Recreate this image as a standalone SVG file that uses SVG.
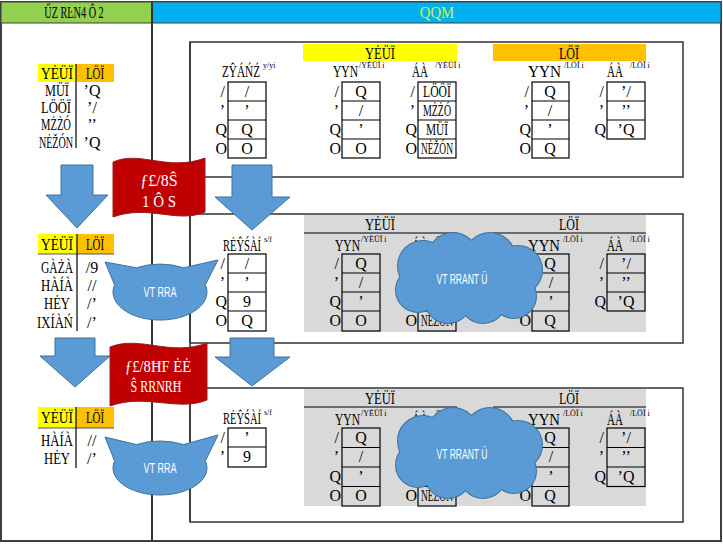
<svg xmlns="http://www.w3.org/2000/svg" width="723" height="546" viewBox="0 0 723 546">
<style>
.s{font-family:"Liberation Serif","DejaVu Serif",serif;font-size:16px;fill:#000}
.h{font-size:17px}
.c{text-anchor:middle}
.r{text-anchor:end}
.sup{font-size:8px}
.wt{fill:#fff}
.w{fill:#fff;font-family:"Liberation Sans","DejaVu Sans",sans-serif;font-size:14px;text-anchor:middle}
.box{fill:none;stroke:#000;stroke-width:1.2}
.ln{stroke:#000;stroke-width:1.2}
.panel{fill:#fff;stroke:#333;stroke-width:1.5}
.blue{fill:#5b9bd5;stroke:#41719c;stroke-width:1}
.flag{fill:#c00000;stroke:#9a2020;stroke-width:1}
.gray{fill:#d9d9d9}
</style>
<defs>
<g id="cloud">
<g fill="#5b9bd5" stroke="#41719c" stroke-width="2">
<circle cx="-45" cy="-12" r="25"/><circle cx="-15" cy="-20" r="25"/><circle cx="22" cy="-20" r="25"/><circle cx="50" cy="-8" r="24"/><circle cx="46" cy="18" r="22"/><circle cx="15" cy="22" r="23"/><circle cx="-20" cy="22" r="23"/><circle cx="-50" cy="12" r="22"/>
</g>
<g fill="#5b9bd5">
<circle cx="-45" cy="-12" r="25"/><circle cx="-15" cy="-20" r="25"/><circle cx="22" cy="-20" r="25"/><circle cx="50" cy="-8" r="24"/><circle cx="46" cy="18" r="22"/><circle cx="15" cy="22" r="23"/><circle cx="-20" cy="22" r="23"/><circle cx="-50" cy="12" r="22"/><circle cx="0" cy="0" r="35"/>
</g>
</g>
</defs>

<!-- frame and header -->
<rect x="1" y="2" width="720" height="539" fill="#fff" stroke="#404040" stroke-width="2"/>
<rect x="1" y="2" width="151" height="21" fill="#92d050" stroke="#404040" stroke-width="1"/>
<rect x="152" y="2" width="569" height="21" fill="#00b0f0" stroke="#404040" stroke-width="1"/>
<line x1="152" y1="2" x2="152" y2="541" stroke="#333" stroke-width="2"/>
<text class="s c" font-size="14" transform="translate(74 18) scale(0.64 1)">ŰZ RĿN4 Ô 2</text>
<text class="s c" font-size="14" transform="translate(437 18) scale(0.92 1)" style="fill:#d4f046">QQM</text>

<!-- panels -->
<g id="panel-top">
<rect class="panel" x="190" y="42" width="493" height="135"/>
<rect x="303" y="44" width="154" height="17" fill="#ffff00"/>
<text class="s h c" transform="translate(380 59) scale(0.74 1)">YĖÜÏ</text>
<rect x="493" y="44" width="153" height="17" fill="#ffc000"/>
<text class="s h c" transform="translate(569 59) scale(0.71 1)">LÖÏ</text>
<text class="s h" transform="translate(222 77) scale(0.66 1)">ZŶÁŃŹ</text><text class="s sup" x="263" y="68">y/yi</text>
<text class="s h" transform="translate(333 77) scale(0.68 1)">YYN</text><text class="s sup" x="359" y="68">/YĖÜÏ i</text>
<text class="s h" transform="translate(412 77) scale(0.65 1)">ÁÀ</text><text class="s sup" x="435" y="68">/YĖÜÏ i</text>
<text class="s h" transform="translate(528 77) scale(0.9 1)">YYN</text><text class="s sup" x="564" y="68">/LÖÏ i</text>
<text class="s h" transform="translate(607 77) scale(0.65 1)">ÁÀ</text><text class="s sup" x="630" y="68">/LÖÏ i</text>
<rect class="box" x="228" y="82" width="38" height="76"/><path class="ln" d="M228 101H266M228 120H266M228 139H266"/>
<text class="s r" x="225" y="97">/</text><text class="s r" x="225" y="116">’</text><text class="s r" x="227" y="135">Q</text><text class="s r" x="227" y="154">O</text>
<text class="s c" x="247" y="97">/</text><text class="s c" x="247" y="116">’</text><text class="s c" x="247" y="135">Q</text><text class="s c" x="247" y="154">O</text>
<rect class="box" x="342" y="82" width="38" height="76"/><path class="ln" d="M342 101H380M342 120H380M342 139H380"/>
<text class="s r" x="339" y="97">/</text><text class="s r" x="339" y="116">’</text><text class="s r" x="341" y="135">Q</text><text class="s r" x="341" y="154">O</text>
<text class="s c" x="361" y="97">Q</text><text class="s c" x="361" y="116">/</text><text class="s c" x="361" y="135">’</text><text class="s c" x="361" y="154">O</text>
<rect class="box" x="418" y="82" width="38" height="76"/><path class="ln" d="M418 101H456M418 120H456M418 139H456"/>
<text class="s r" x="415" y="97">/</text><text class="s r" x="415" y="116">’</text><text class="s r" x="417" y="135">Q</text><text class="s r" x="417" y="154">O</text>
<text class="s c" transform="translate(437 97) scale(0.73 1)">LÖÖÏ</text><text class="s c" transform="translate(437 116) scale(0.62 1)">MŻŻÓ</text><text class="s c" transform="translate(437 135) scale(0.71 1)">MÜÏ</text><text class="s c" transform="translate(437 154) scale(0.59 1)">NĖŽÓN</text>
<rect class="box" x="532" y="82" width="37" height="76"/><path class="ln" d="M532 101H569M532 120H569M532 139H569"/>
<text class="s r" x="529" y="97">/</text><text class="s r" x="529" y="116">’</text><text class="s r" x="531" y="135">Q</text><text class="s r" x="531" y="154">O</text>
<text class="s c" x="550" y="97">Q</text><text class="s c" x="550" y="116">/</text><text class="s c" x="550" y="135">’</text><text class="s c" x="550" y="154">Q</text>
<rect class="box" x="607" y="82" width="38" height="57"/><path class="ln" d="M607 101H645M607 120H645"/>
<text class="s r" x="604" y="97">/</text><text class="s r" x="604" y="116">’</text><text class="s r" x="606" y="135">Q</text>
<text class="s c" x="626" y="97">’/</text><text class="s c" x="626" y="116">’’</text><text class="s c" x="626" y="135">’Q</text>
</g>

<g id="panel-middle">
<rect class="panel" x="190" y="214" width="493" height="129"/>
<rect class="gray" x="304" y="215" width="342" height="117"/>
<text class="s h c" transform="translate(380 230) scale(0.74 1)">YĖÜÏ</text><line class="ln" x1="304" y1="233" x2="457" y2="233"/>
<text class="s h c" transform="translate(569 230) scale(0.71 1)">LÖÏ</text><line class="ln" x1="493" y1="233" x2="646" y2="233"/>
<text class="s h" transform="translate(223 251) scale(0.62 1)">RĖŶŚÀÍ</text><text class="s sup" x="264" y="242">s/f</text>
<text class="s h" transform="translate(335 251) scale(0.68 1)">YYN</text><text class="s sup" x="361" y="242">/YĖÜÏ i</text>
<text class="s h" transform="translate(412 251) scale(0.65 1)">ÁÀ</text><text class="s sup" x="435" y="242">/YĖÜÏ i</text>
<text class="s h" transform="translate(528 251) scale(0.87 1)">YYN</text><text class="s sup" x="563" y="242">/LÖÏ i</text>
<text class="s h" transform="translate(607 251) scale(0.65 1)">ÁÀ</text><text class="s sup" x="630" y="242">/LÖÏ i</text>
<rect class="box" x="228" y="254" width="38" height="77"/><path class="ln" d="M228 273H266M228 292H266M228 311H266"/>
<text class="s r" x="225" y="269">/</text><text class="s r" x="225" y="288">’</text><text class="s r" x="227" y="307">Q</text><text class="s r" x="227" y="326">O</text>
<text class="s c" x="247" y="269">/</text><text class="s c" x="247" y="288">’</text><text class="s c" x="247" y="307">9</text><text class="s c" x="247" y="326">Q</text>
<rect class="box" x="342" y="254" width="38" height="77"/><path class="ln" d="M342 273H380M342 292H380M342 311H380"/>
<text class="s r" x="339" y="269">/</text><text class="s r" x="339" y="288">’</text><text class="s r" x="341" y="307">Q</text><text class="s r" x="341" y="326">O</text>
<text class="s c" x="361" y="269">Q</text><text class="s c" x="361" y="288">/</text><text class="s c" x="361" y="307">’</text><text class="s c" x="361" y="326">O</text>
<rect class="box" x="418" y="254" width="38" height="77"/><path class="ln" d="M418 273H456M418 292H456M418 311H456"/>
<text class="s r" x="417" y="326">O</text>
<text class="s c" transform="translate(437 326) scale(0.59 1)">NĖŽÓN</text>
<rect class="box" x="532" y="254" width="37" height="77"/><path class="ln" d="M532 273H569M532 292H569M532 311H569"/>
<text class="s r" x="531" y="307">Q</text><text class="s r" x="531" y="326">O</text>
<text class="s c" x="550" y="269">Q</text><text class="s c" x="551" y="288">/</text><text class="s c" x="551" y="307">’</text><text class="s c" x="550" y="326">Q</text>
<rect class="box" x="607" y="254" width="38" height="57"/><path class="ln" d="M607 273H645M607 292H645"/>
<text class="s r" x="604" y="269">/</text><text class="s r" x="604" y="288">’</text><text class="s r" x="606" y="307">Q</text>
<text class="s c" x="626" y="269">’/</text><text class="s c" x="626" y="288">’’</text><text class="s c" x="626" y="307">’Q</text>
</g>

<g id="panel-bottom">
<rect class="panel" x="190" y="388" width="493" height="134"/>
<rect class="gray" x="304" y="389" width="342" height="117"/>
<text class="s h c" transform="translate(380 404) scale(0.74 1)">YĖÜÏ</text><line class="ln" x1="304" y1="407" x2="457" y2="407"/>
<text class="s h c" transform="translate(569 404) scale(0.71 1)">LÖÏ</text><line class="ln" x1="493" y1="407" x2="646" y2="407"/>
<text class="s h" transform="translate(223 424) scale(0.62 1)">RĖŶŚÀÍ</text><text class="s sup" x="264" y="415">s/f</text>
<text class="s h" transform="translate(335 425) scale(0.68 1)">YYN</text><text class="s sup" x="361" y="416">/YĖÜÏ i</text>
<text class="s h" transform="translate(412 425) scale(0.65 1)">ÁÀ</text><text class="s sup" x="435" y="416">/YĖÜÏ i</text>
<text class="s h" transform="translate(528 425) scale(0.87 1)">YYN</text><text class="s sup" x="563" y="416">/LÖÏ i</text>
<text class="s h" transform="translate(607 425) scale(0.65 1)">ÁÀ</text><text class="s sup" x="630" y="416">/LÖÏ i</text>
<rect class="box" x="228" y="428" width="38" height="39"/><path class="ln" d="M228 447H266"/>
<text class="s r" x="225" y="443">/</text><text class="s r" x="225" y="462">’</text>
<text class="s c" x="247" y="443">’</text><text class="s c" x="247" y="462">9</text>
<rect class="box" x="342" y="428" width="38" height="78"/><path class="ln" d="M342 447.5H380M342 467H380M342 486.5H380"/>
<text class="s r" x="339" y="443">/</text><text class="s r" x="339" y="462">’</text><text class="s r" x="341" y="482">Q</text><text class="s r" x="341" y="501">O</text>
<text class="s c" x="361" y="443">Q</text><text class="s c" x="361" y="462">/</text><text class="s c" x="361" y="482">’</text><text class="s c" x="361" y="501">O</text>
<rect class="box" x="418" y="428" width="38" height="78"/><path class="ln" d="M418 447.5H456M418 467H456M418 486.5H456"/>
<text class="s r" x="417" y="501">O</text>
<text class="s c" transform="translate(437 501) scale(0.59 1)">NĖŽÓN</text>
<rect class="box" x="532" y="428" width="37" height="78"/><path class="ln" d="M532 447.5H569M532 467H569M532 486.5H569"/>
<text class="s r" x="531" y="482">Q</text><text class="s r" x="531" y="501">O</text>
<text class="s c" x="550" y="443">Q</text><text class="s c" x="551" y="462">/</text><text class="s c" x="551" y="482">’</text><text class="s c" x="550" y="501">Q</text>
<rect class="box" x="607" y="428" width="38" height="58.5"/><path class="ln" d="M607 447.5H645M607 467H645"/>
<text class="s r" x="604" y="443">/</text><text class="s r" x="604" y="462">’</text><text class="s r" x="606" y="482">Q</text>
<text class="s c" x="626" y="443">’/</text><text class="s c" x="626" y="462">’’</text><text class="s c" x="626" y="482">’Q</text>
</g>

<line x1="190" y1="42" x2="190" y2="522" stroke="#333" stroke-width="1.5"/>

<!-- left tables -->
<g id="left-top">
<rect x="38" y="64" width="38" height="18" fill="#ffff00"/><rect x="76" y="64" width="38" height="18" fill="#ffc000"/>
<text class="s h c" transform="translate(57 79) scale(0.79 1)">YĖÜÏ</text><text class="s h c" transform="translate(95 79) scale(0.64 1)">LÖÏ</text>
<line class="ln" x1="76" y1="64" x2="76" y2="148"/>
<text class="s c" transform="translate(57 96) scale(0.77 1)">MÜÏ</text><text class="s c" x="92" y="96">’Q</text>
<text class="s c" transform="translate(56 113) scale(0.79 1)">LÖÖÏ</text><text class="s c" x="92" y="113">’/</text>
<text class="s c" transform="translate(56 130) scale(0.66 1)">MŻŻÓ</text><text class="s c" x="92" y="130">’’</text>
<text class="s c" transform="translate(56 148) scale(0.63 1)">NĖŽÓN</text><text class="s c" x="92" y="148">’Q</text>
</g>
<g id="left-middle">
<rect x="38" y="234" width="39" height="20" fill="#ffff00"/><rect x="77" y="234" width="37" height="20" fill="#ffc000"/>
<line x1="38" y1="254" x2="114" y2="254" stroke="#555" stroke-width="1"/>
<text class="s h c" transform="translate(57 250) scale(0.79 1)">YĖÜÏ</text><text class="s h c" transform="translate(95 250) scale(0.64 1)">LÖÏ</text>
<line class="ln" x1="77" y1="234" x2="77" y2="331"/>
<text class="s c" transform="translate(57 273) scale(0.72 1)">GÀŻÀ</text><text class="s c" x="92" y="273">/9</text>
<text class="s c" transform="translate(57 291) scale(0.8 1)">HÀÍÀ</text><text class="s c" x="92" y="291">//</text>
<text class="s c" transform="translate(57 309) scale(0.79 1)">HĖY</text><text class="s c" x="92" y="309">/’</text>
<text class="s c" transform="translate(55 328) scale(0.79 1)">IXÍÀŃ</text><text class="s c" x="92" y="328">/’</text>
</g>
<g id="left-bottom">
<rect x="38" y="407" width="38" height="21" fill="#ffff00"/><rect x="76" y="407" width="38" height="21" fill="#ffc000"/>
<line x1="38" y1="428" x2="114" y2="428" stroke="#555" stroke-width="1"/>
<text class="s h c" transform="translate(57 423) scale(0.79 1)">YĖÜÏ</text><text class="s h c" transform="translate(95 423) scale(0.64 1)">LÖÏ</text>
<line class="ln" x1="76" y1="407" x2="76" y2="468"/>
<text class="s c" transform="translate(57 446) scale(0.8 1)">HÀÍÀ</text><text class="s c" x="92" y="446">//</text>
<text class="s c" transform="translate(57 464) scale(0.79 1)">HĖY</text><text class="s c" x="92" y="464">/’</text>
</g>

<!-- connectors: arrows -->
<g id="connectors">
<path class="blue" d="M61 165H93V195H108L77 228L46 195H61Z"/>
<path class="blue" d="M232 165H272V197H290L252 230L215 197H232Z"/>
<path class="blue" d="M55 338H95V356H110L75 387L40 356H55Z"/>
<path class="blue" d="M230 338H274V357H290L252 386L215 357H230Z"/>
</g>

<!-- flags -->
<g id="flag1">
<path class="flag" d="M113 162C140 150 168 172 205 158L205 212C178 224 148 204 113 217Z"/>
<text class="s c wt" font-size="18" x="159" y="186">ƒ£/8Ŝ</text>
<text class="s h c wt" transform="translate(159 207) scale(0.88 1)">1 Ô S</text>
</g>
<g id="flag2">
<path class="flag" d="M110 347C140 335 170 357 207 343L207 400C178 412 146 393 110 406Z"/>
<text class="s h c wt" transform="translate(158 372) scale(0.86 1)">ƒ£/8ĦF ĖĖ</text>
<text class="s c wt" font-size="15" transform="translate(156 392) scale(0.75 1)">Ŝ RRNRĦ</text>
</g>

<!-- speech bubbles -->
<g id="bubble1">
<path class="blue" d="M114.6 284.8L105 262L136.5 267.8A47 28 0 0 1 183.5 267.8L218 260L205.4 284.8A47 28 0 1 1 114.6 284.8Z"/>
<text class="w" transform="translate(160 297) scale(0.65 1)">VT  RRA</text>
</g>
<g id="bubble2">
<path class="blue" d="M114.6 461L105 437L136.5 444.6A47 27 0 0 1 183.5 444.6L218 435L205.4 461A47 27 0 1 1 114.6 461Z"/>
<text class="w" transform="translate(160 473) scale(0.65 1)">VT  RRA</text>
</g>

<!-- clouds -->
<g id="cloud1">
<use href="#cloud" transform="translate(468 278)"/>
<text class="w" font-size="15" transform="translate(462 284) scale(0.61 1)">VT  RRANT  Ü</text>
</g>
<g id="cloud2">
<use href="#cloud" transform="translate(468 453)"/>
<text class="w" font-size="15" transform="translate(462 459) scale(0.61 1)">VT  RRANT  Ü</text>
</g>
</svg>
